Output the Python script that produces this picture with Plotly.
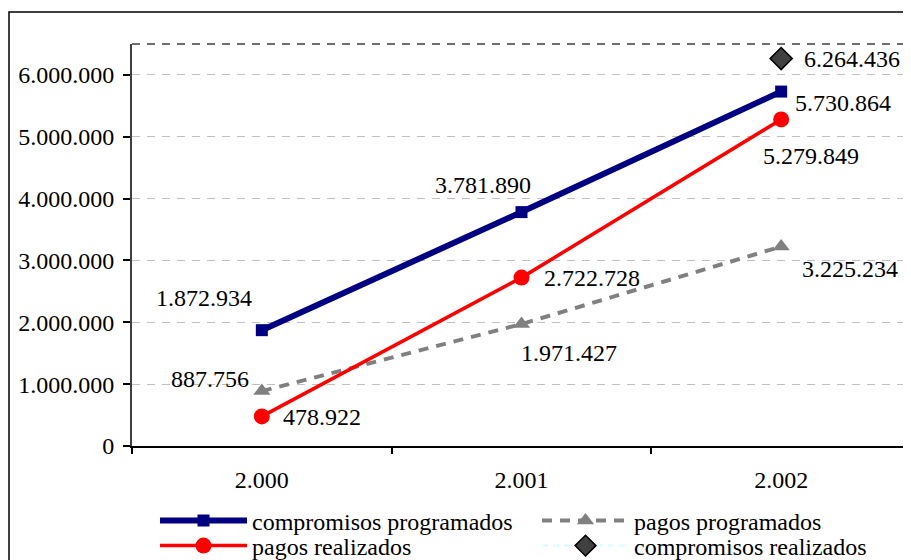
import plotly.graph_objects as go

categories = ["2.000", "2.001", "2.002"]
compromisos_programados = [1872934, 3781890, 5730864]
pagos_programados = [887756, 1971427, 3225234]
pagos_realizados = [478922, 2722728, 5279849]
compromisos_realizados = [None, None, 6264436]
y_ticks = [0, 1000000, 2000000, 3000000, 4000000, 5000000, 6000000]

FONT = "Liberation Serif, Times New Roman, serif"
OFF = 8  # page body margin of the browser
W, H = 911 - OFF, 560 - OFF
L, T = 132 - OFF, 44 - OFF
R = 0
B = H - (446 - OFF)
PW, PH = W - L - R, H - T - B


def sx(p):
    """screen pixel x -> paper x"""
    return (p - OFF - L) / PW


def sy(p):
    """screen pixel y -> paper y"""
    return (H - B - (p - OFF)) / PH


fig = go.Figure()

fig.add_trace(go.Scatter(
    x=categories, y=pagos_programados, name="pagos programados",
    mode="lines+markers", legend="legend2",
    line=dict(color="#808080", width=4, dash="10px,8px"),
    marker=dict(symbol="triangle-up", size=15, color="#808080"),
))
fig.add_trace(go.Scatter(
    x=categories, y=compromisos_programados, name="compromisos programados",
    mode="lines+markers", legend="legend",
    line=dict(color="#000080", width=6),
    marker=dict(symbol="square", size=12, color="#000080"),
))
fig.add_trace(go.Scatter(
    x=categories, y=pagos_realizados, name="pagos realizados",
    mode="lines+markers", legend="legend3",
    line=dict(color="#ff0000", width=3.5),
    marker=dict(symbol="circle", size=16, color="#ff0000"),
))
fig.add_trace(go.Scatter(
    x=categories, y=compromisos_realizados, name="compromisos realizados",
    mode="lines+markers", legend="legend4",
    line=dict(color="#ccffff", width=1.5, dash="6px,5px"),
    marker=dict(symbol="diamond", size=17, color="#404040",
                line=dict(color="#000000", width=1.5)),
))

# data labels: (series values, pixel offsets dx, dy-up)
label_sets = [
    (compromisos_programados, [(-58, 32), (-39, 27), (62, -11)]),
    (pagos_programados, [(-52, 12), (47, -29), (69, -22)]),
    (pagos_realizados, [(60, -1), (70, 0), (30, -37)]),
    (compromisos_realizados, [(0, 0), (0, 0), (71, 0)]),
]
annotations = []
for values, offsets in label_sets:
    for i, (v, (dx, dy)) in enumerate(zip(values, offsets)):
        if v is None:
            continue
        annotations.append(dict(
            x=i, y=v, xref="x", yref="y",
            text=f"{v:,}".replace(",", "."),
            showarrow=False, xshift=dx, yshift=dy,
            font=dict(family=FONT, size=24, color="#000000"),
        ))

shapes = [
    # outer chart border
    dict(type="rect", xref="paper", yref="paper",
         x0=sx(9), x1=sx(980), y0=sy(12), y1=sy(660),
         line=dict(color="#000000", width=1.5), layer="below"),
    # dashed top border of plot area
    dict(type="line", xref="paper", yref="paper",
         x0=0, x1=1.05, y0=1, y1=1,
         line=dict(color="#404040", width=1.5, dash="8px,7px")),
]

legend_common = dict(
    orientation="h", xanchor="left", yanchor="middle",
    font=dict(family=FONT, size=24, color="#000000"),
    bgcolor="rgba(0,0,0,0)", itemwidth=87,
    itemclick=False, itemdoubleclick=False,
)

fig.update_layout(
    width=W, height=H, autosize=False,
    margin=dict(l=L, r=R, t=T, b=B, pad=0, autoexpand=False),
    paper_bgcolor="#ffffff", plot_bgcolor="#ffffff",
    separators=",.",
    font=dict(family=FONT, size=24, color="#000000"),
    showlegend=True,
    legend=dict(x=sx(155), y=sy(521), **legend_common),
    legend2=dict(x=sx(537), y=sy(521), **legend_common),
    legend3=dict(x=sx(155), y=sy(546), **legend_common),
    legend4=dict(x=sx(537), y=sy(546), **legend_common),
    annotations=annotations,
    shapes=shapes,
    xaxis=dict(
        type="category", range=[-0.5, 2.5], automargin=False,
        tickson="boundaries", ticks="outside", ticklen=6, tickwidth=1.5,
        tickcolor="#000000", showline=True, linecolor="#000000", linewidth=2,
        showgrid=False, zeroline=False, ticklabelstandoff=11,
        tickfont=dict(family=FONT, size=24, color="#000000"),
    ),
    yaxis=dict(
        range=[0, 6500000], tickvals=y_ticks, tickformat=",d", automargin=False,
        ticks="outside", ticklen=7, tickwidth=1.5, tickcolor="#000000",
        showline=True, linecolor="#404040", linewidth=2,
        showgrid=True, gridcolor="#c0c0c0", gridwidth=1, griddash="8px,7px",
        zeroline=False, ticklabelstandoff=4,
        tickfont=dict(family=FONT, size=24, color="#000000"),
    ),
)

fig.write_html("out.html")
